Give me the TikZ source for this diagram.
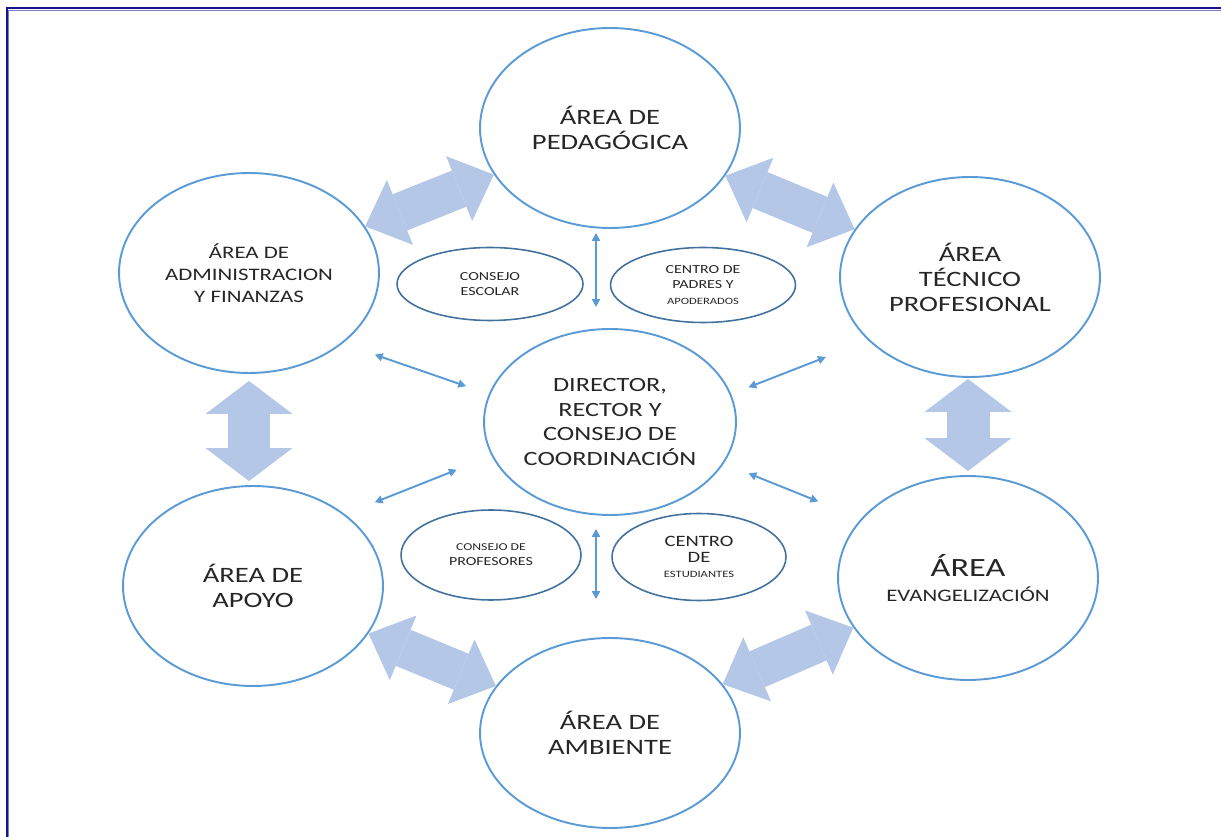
\documentclass[tikz,border=0pt]{standalone}
\usepackage{fontspec}
\setmainfont{Carlito}[FakeStretch=1.3]
\usetikzlibrary{shapes.geometric, arrows.meta, calc}
\definecolor{ringblue}{HTML}{5B9BD5}
\definecolor{ringbluedark}{HTML}{41719C}
\definecolor{blockblue}{HTML}{B4C7E7}
\definecolor{framenavy}{HTML}{14148C}
\definecolor{framelight}{HTML}{7C7CC8}
\definecolor{textgray}{HTML}{262626}

\begin{document}
\begin{tikzpicture}[
    x=0.02cm, y=-0.02cm,
    % ── Node styles ──────────────────────────────────────────────────────
    area/.style={
        ellipse, draw=ringblue, line width=1.1pt, inner sep=0pt,
        minimum width=5.2cm, minimum height=4cm,
        align=center, text=textgray,
        font=\fontsize{12.5}{14.2}\selectfont
    },
    council/.style={
        ellipse, draw=ringbluedark, line width=0.9pt, inner sep=0pt,
        minimum width=3.7cm, minimum height=1.5cm,
        align=center, text=textgray,
        font=\fontsize{7}{8.6}\selectfont
    },
    % ── Arrow styles ─────────────────────────────────────────────────────
    bigarr/.style={
        color=blockblue, line width=0.78cm,
        {Triangle[length=0.75cm, width=1.4cm, line width=0pt]}-{Triangle[length=0.75cm, width=1.4cm, line width=0pt]}
    },
    bigvarr/.style={
        color=blockblue, line width=0.86cm,
        {Triangle[length=0.66cm, width=1.74cm, line width=0pt]}-{Triangle[length=0.66cm, width=1.74cm, line width=0pt]}
    },
    thinarr/.style={
        color=ringblue, line width=1.1pt,
        {Triangle[length=4.5pt, width=4.5pt]}-{Triangle[length=4.5pt, width=4.5pt]}
    }
]
\useasboundingbox (0,0) rectangle (1221,837);

% Frame
\draw[framenavy, line width=1.2pt] (7,837) -- (7,8.3) -- (1221,8.3);
\draw[framelight, line width=0.6pt] (8.8,837) -- (8.8,10.1) -- (1221,10.1);

% ═══════════════════════════════════════════════════════════════════════
% Areas
% ═══════════════════════════════════════════════════════════════════════
\node[area] (ped) at (610,128) {ÁREA DE\\PEDAGÓGICA};
\node[area, font=\fontsize{10}{12.4}\selectfont] (adm) at (249,273)
    {ÁREA DE\\ADMINISTRACION\\Y FINANZAS};
\node[area] (tec) at (970,277) {ÁREA\\TÉCNICO\\PROFESIONAL};
\node[area, minimum width=5.04cm, minimum height=3.72cm,
      font=\fontsize{11.5}{13.9}\selectfont] (dir) at (610,422)
    {DIRECTOR,\\RECTOR Y\\CONSEJO DE\\COORDINACIÓN};
\node[area] (apo) at (253,586) {ÁREA DE\\APOYO};
\node[area, minimum height=4.08cm] (eva) at (968,578)
    {{\fontsize{15}{16}\selectfont ÁREA}\\{\fontsize{10}{12}\selectfont EVANGELIZACIÓN}};
\node[area, minimum height=3.8cm] (amb) at (610,733) {ÁREA DE\\AMBIENTE};

% Councils
\node[council, minimum width=3.72cm, minimum height=1.46cm] (esc) at (490,284)
    {CONSEJO\\ESCOLAR};
\node[council, minimum width=3.7cm, minimum height=1.5cm] (pad) at (703,285)
    {CENTRO DE\\PADRES Y\\{\fontsize{5.5}{7}\selectfont APODERADOS}};
\node[council, minimum width=3.6cm, minimum height=1.8cm] (prof) at (491,555)
    {{\fontsize{6}{8}\selectfont CONSEJO DE}\\PROFESORES};
\node[council, minimum width=3.48cm, minimum height=1.74cm] (est) at (699,557)
    {{\fontsize{9}{10}\selectfont CENTRO}\\{\fontsize{9}{10}\selectfont DE}\\{\fontsize{5.5}{7.5}\selectfont ESTUDIANTES}};

% ═══════════════════════════════════════════════════════════════════════
% Arrows
% ═══════════════════════════════════════════════════════════════════════
\draw[bigarr] (adm) -- (ped);
\draw[bigarr] (ped) -- (tec);
\draw[bigvarr, shorten <=0.14cm, shorten >=0.08cm] (adm.south) -- (adm.south |- apo.north);
\draw[bigvarr, shorten <=0.02cm, shorten >=0.08cm] (eva.north |- tec.south) -- (eva.north);
\draw[bigarr] (apo) -- (amb);
\draw[bigarr] (amb) -- (eva);

% Director links
\draw[thinarr, shorten <=0.68cm, shorten >=0.48cm] (adm.-37.7) -- (dir.167.2);
\draw[thinarr, shorten <=0.91cm, shorten >=0.37cm] (tec.-148.2) -- (dir.13.8);
\draw[thinarr, shorten <=0.64cm, shorten >=0.75cm] (apo.38.9) -- (dir.196.6);
\draw[thinarr, shorten <=0.53cm, shorten >=0.92cm] (dir.-20.5) -- (eva.151.8);
\draw[thinarr, shorten <=0.08cm, shorten >=0.42cm]
    ([xshift=-0.28cm]ped.south) -- ([xshift=-0.28cm]dir.north);
\draw[thinarr, shorten <=0.26cm, shorten >=0.76cm]
    ([xshift=-0.28cm]dir.south) -- ([xshift=-0.28cm]amb.north);

\end{tikzpicture}
\end{document}
